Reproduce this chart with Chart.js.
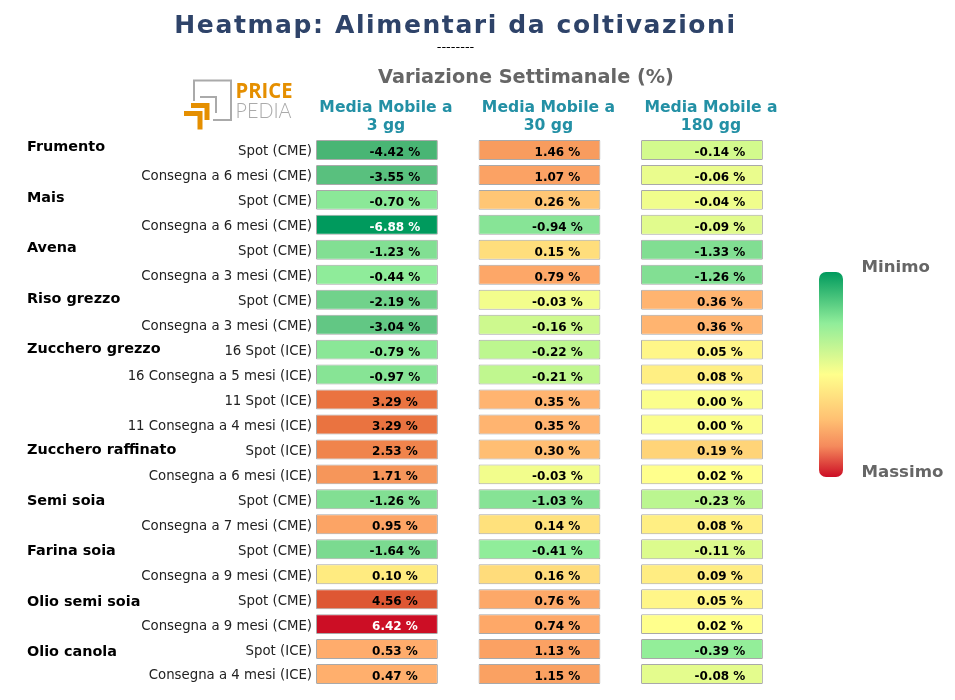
<!DOCTYPE html>
<html><head><meta charset="utf-8">
<style>html,body{margin:0;padding:0;background:#fff}canvas{display:block}</style>
<script src="https://cdn.jsdelivr.net/npm/chart.js@4/dist/chart.umd.min.js"></script>
</head><body><canvas id="c" width="955" height="700"></canvas>
<script>
const rowLabels = ["Spot (CME)","Consegna a 6 mesi (CME)","Spot (CME)","Consegna a 6 mesi (CME)","Spot (CME)","Consegna a 3 mesi (CME)","Spot (CME)","Consegna a 3 mesi (CME)","16 Spot (ICE)","16 Consegna a 5 mesi (ICE)","11 Spot (ICE)","11 Consegna a 4 mesi (ICE)","Spot (ICE)","Consegna a 6 mesi (ICE)","Spot (CME)","Consegna a 7 mesi (CME)","Spot (CME)","Consegna a 9 mesi (CME)","Spot (CME)","Consegna a 9 mesi (CME)","Spot (ICE)","Consegna a 4 mesi (ICE)"];
const groupNames = ["Frumento","Mais","Avena","Riso grezzo","Zucchero grezzo","Zucchero raffinato","Semi soia","Farina soia","Olio semi soia","Olio canola"];
const groupRows = [0,2,4,6,8,12,14,16,18,20];
const values3 = [-4.42,-3.55,-0.70,-6.88,-1.23,-0.44,-2.19,-3.04,-0.79,-0.97,3.29,3.29,2.53,1.71,-1.26,0.95,-1.64,0.10,4.56,6.42,0.53,0.47];
const values30 = [1.46,1.07,0.26,-0.94,0.15,0.79,-0.03,-0.16,-0.22,-0.21,0.35,0.35,0.30,-0.03,-1.03,0.14,-0.41,0.16,0.76,0.74,1.13,1.15];
const values180 = [-0.14,-0.06,-0.04,-0.09,-1.33,-1.26,0.36,0.36,0.05,0.08,0.00,0.00,0.19,0.02,-0.23,0.08,-0.11,0.09,0.05,0.02,-0.39,-0.08];
const columnNames = [["Media Mobile a","3 gg"],["Media Mobile a","30 gg"],["Media Mobile a","180 gg"]];
const colorValues = [-6.88,-4.42,-3.04,-1.26,-0.40,-0.20,0,0.02,0.05,0.10,0.19,0.35,0.55,1.46,3.29,4.56,6.42];
const colorHex = ["#009a5d","#49b574","#62c784","#82df93","#90ed9a","#c2f88e","#fbfe8c","#ffff8c","#fff688","#ffeb80","#ffd478","#ffb470","#ffab6b","#f89c5e","#ea7340","#de5733","#cc0e25"];

function rgb(h){return [1,3,5].map(i=>parseInt(h.substr(i,2),16));}
function colorFor(v){
  for(let i=1;i<colorValues.length;i++){
    if(v<=colorValues[i]){
      const t=(v-colorValues[i-1])/(colorValues[i]-colorValues[i-1]);
      const a=rgb(colorHex[i-1]),b=rgb(colorHex[i]);
      return `rgb(${a.map((x,k)=>Math.round(x+(b[k]-x)*t)).join(",")})`;
    }
  }
  return colorHex[colorHex.length-1];
}
const FONT='"DejaVu Sans"';
const seriesList=[values3,values30,values180];
const datasets=seriesList.map((vals,c)=>({
  label:columnNames[c].join(" "),
  data:vals.map(()=>[c,c+0.75]),
  backgroundColor:vals.map(colorFor),
  borderColor:"rgba(50,50,50,0.42)",
  borderWidth:1,borderSkipped:false,borderRadius:1,
  grouped:false,barPercentage:0.8,categoryPercentage:1
}));
function txt(ctx,s,x,y,font,color,align){ctx.font=font;ctx.fillStyle=color;ctx.textAlign=align||"left";ctx.textBaseline="alphabetic";ctx.fillText(s,x,y);}

const decor={id:"decor",afterDatasetsDraw(chart){
  const ctx=chart.ctx;ctx.save();
  seriesList.forEach((vals,c)=>{
    const meta=chart.getDatasetMeta(c);
    vals.forEach((v,r)=>{
      const el=meta.data[r];
      const cx=(el.base+el.x)/2+18;
      txt(ctx,v.toFixed(2)+" %",cx,el.y+6,"bold 12px "+FONT,Math.abs(v)>6?"#fff":"#000","center");
    });
    const m0=meta.data[0];
    const cx=(m0.base+m0.x)/2+9;
    txt(ctx,columnNames[c][0],cx,112,"bold 15.6px "+FONT,"#2390a5","center");
    txt(ctx,columnNames[c][1],cx,130,"bold 15.6px "+FONT,"#2390a5","center");
  });
  const ys=chart.scales.y;
  groupNames.forEach((g,i)=>{
    const r=groupRows[i];
    txt(ctx,g,27,ys.getPixelForValue(r)+1.4+r*0.28,"bold 14.4px "+FONT,"#000");
  });
  ctx.letterSpacing="1.6px";
  txt(ctx,"Heatmap: Alimentari da coltivazioni",455.5,33,"bold 25px "+FONT,"#2e4369","center");
  ctx.letterSpacing="0px";
  txt(ctx,"--------",455.5,51,"13px "+FONT,"#000","center");
  txt(ctx,"Variazione Settimanale (%)",526,83,"bold 19.3px "+FONT,"#666","center");
  const g=ctx.createLinearGradient(0,272,0,477);
  [[0,"#009a5d"],[0.25,"#90ed9a"],[0.5,"#ffff8c"],[0.72,"#ffc072"],[0.85,"#f58a5c"],[1,"#cc0e25"]].forEach(s=>g.addColorStop(s[0],s[1]));
  ctx.fillStyle=g;ctx.beginPath();ctx.roundRect(819,272,24,205,7);ctx.fill();
  txt(ctx,"Minimo",861.5,271.5,"bold 16.6px "+FONT,"#666");
  txt(ctx,"Massimo",861.5,476.5,"bold 16.6px "+FONT,"#666");
  ctx.lineWidth=2;ctx.strokeStyle="#aaa";ctx.lineCap="butt";ctx.lineJoin="miter";
  ctx.beginPath();ctx.moveTo(194,101);ctx.lineTo(194,80.5);ctx.lineTo(231,80.5);ctx.lineTo(231,120);ctx.lineTo(213,120);ctx.stroke();
  ctx.beginPath();ctx.moveTo(200,97);ctx.lineTo(216,97);ctx.lineTo(216,113);ctx.stroke();
  ctx.lineWidth=5;ctx.strokeStyle="#e58f00";
  ctx.beginPath();ctx.moveTo(191,105.5);ctx.lineTo(207,105.5);ctx.lineTo(207,120);ctx.stroke();
  ctx.beginPath();ctx.moveTo(184,113.5);ctx.lineTo(200,113.5);ctx.lineTo(200,129.5);ctx.stroke();
  ctx.font='bold 21px "Open Sans"';ctx.fillStyle="#e58f00";ctx.textAlign="left";ctx.fillText("PRICE",235.5,98,57);
  ctx.font='300 22px Lato';ctx.fillStyle="#aaa";ctx.fillText("PEDIA",235.5,118,56);
  ctx.restore();
}};

new Chart(document.getElementById("c"),{
  type:"bar",
  data:{labels:rowLabels,datasets},
  plugins:[decor],
  options:{
    indexAxis:"y",responsive:false,animation:false,devicePixelRatio:1,
    layout:{padding:{top:137.5,bottom:13.5,left:0,right:0}},
    plugins:{legend:{display:false},tooltip:{enabled:false},title:{display:false}},
    scales:{
      x:{type:"linear",min:0,max:3.932,display:false,grid:{display:false}},
      y:{type:"category",grid:{display:false,drawTicks:false},border:{display:false},
         afterFit(s){s.width=316;},
         ticks:{autoSkip:false,padding:4,labelOffset:2,color:"#222",font:{family:"DejaVu Sans",size:13.3}}}
    }
  }
});
</script></body></html>
